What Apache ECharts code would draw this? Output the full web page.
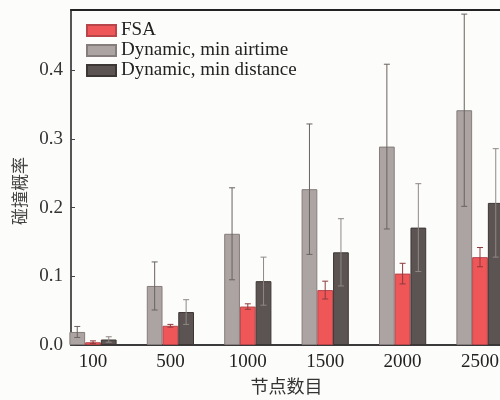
<!DOCTYPE html>
<html><head><meta charset="utf-8">
<script src="https://cdn.jsdelivr.net/npm/echarts@6/dist/echarts.min.js"></script>
<style>html,body{margin:0;padding:0;background:#fcfcfa;}#c{width:500px;height:400px;}</style>
</head><body><div id="c"></div>
<script>
const categories = ['100', '500', '1000', '1500', '2000', '2500'];
const fsa = [0.004, 0.028, 0.056, 0.080, 0.104, 0.128];
const fsaErr = [0.002, 0.002, 0.004, 0.013, 0.015, 0.014];
const airtime = [0.019, 0.086, 0.162, 0.227, 0.289, 0.342];
const airtimeErr = [0.008, 0.035, 0.067, 0.095, 0.120, 0.140];
const distance = [0.008, 0.048, 0.093, 0.135, 0.171, 0.207];
const distanceErr = [0.004, 0.018, 0.035, 0.049, 0.064, 0.079];
const yTicks = [0.0, 0.1, 0.2, 0.3, 0.4];
const legendNames = ['FSA', 'Dynamic, min airtime', 'Dynamic, min distance'];

const GAP = 0.39;
const serif = "'Liberation Serif','DejaVu Serif',serif";
const cjk = "'Noto Sans CJK SC',sans-serif";

function errData(vals, errs, slot) {
  return vals.map((v, i) => [i, v - errs[i], v + errs[i], slot]);
}
function errSeries(name, vals, errs, slot, color) {
  return {
    type: 'custom', name: name + ' err', xAxisIndex: 0, yAxisIndex: 0, z: 5,
    data: errData(vals, errs, slot), silent: true,
    renderItem: function (params, api) {
      const band = api.size([1, 0])[0];
      const bw = band * (1 - GAP) / 3;
      const hi = api.coord([api.value(0), api.value(2)]);
      const lo = api.coord([api.value(0), Math.max(0, api.value(1))]);
      const x = hi[0] + (api.value(3) - 1) * bw;
      const cap = 3;
      const st = { stroke: color, lineWidth: 1 };
      return { type: 'group', children: [
        { type: 'line', shape: { x1: x, y1: hi[1], x2: x, y2: lo[1] }, style: st },
        { type: 'line', shape: { x1: x - cap, y1: hi[1], x2: x + cap, y2: hi[1] }, style: st },
        { type: 'line', shape: { x1: x - cap, y1: lo[1], x2: x + cap, y2: lo[1] }, style: st }
      ]};
    }
  };
}

const chart = echarts.init(document.getElementById('c'), null, { renderer: 'canvas' });
chart.setOption({
  backgroundColor: '#fcfcfa',
  animation: false,
  grid: [
    { left: 54.3, right: -18.7, top: 10, bottom: 55, outerBoundsMode: 'none', containLabel: false },
    { left: 71, right: -20, top: 10, bottom: 55, outerBoundsMode: 'none', containLabel: false }
  ],
  legend: {
    data: legendNames, orient: 'vertical', left: 81, top: 16,
    itemWidth: 29, itemHeight: 11, itemGap: 1, icon: 'rect',
    textStyle: { fontFamily: serif, fontSize: 19, color: '#222', lineHeight: 16 }
  },
  xAxis: [
    {
      type: 'category', data: categories, gridIndex: 0,
      axisLine: { show: false },
      axisTick: { show: true, inside: true, length: 3, alignWithLabel: true, lineStyle: { color: '#333' } },
      axisLabel: { fontFamily: serif, fontSize: 19, color: '#222', margin: 8 },
      name: '节点数目', nameLocation: 'middle', nameGap: 31,
      nameTextStyle: { fontFamily: cjk, fontSize: 18, color: '#333' }
    },
    { type: 'value', gridIndex: 1, position: 'bottom', min: 0, max: 1,
      axisLine: { show: true, lineStyle: { color: '#3a3a3a', width: 2 } },
      axisTick: { show: false }, axisLabel: { show: false }, splitLine: { show: false } },
    { type: 'value', gridIndex: 1, position: 'top', min: 0, max: 1,
      axisLine: { show: true, lineStyle: { color: '#222', width: 2 } },
      axisTick: { show: false }, axisLabel: { show: false }, splitLine: { show: false } }
  ],
  yAxis: [
    {
      type: 'value', gridIndex: 0, min: 0, max: 0.488, interval: 0.1, offset: -16.7,
      axisLine: { show: true, lineStyle: { color: '#555', width: 2 } },
      axisTick: { show: true, inside: true, length: 4, lineStyle: { color: '#444' } },
      axisLabel: { fontFamily: serif, fontSize: 19, color: '#333', margin: 8, showMaxLabel: false,
        formatter: v => (yTicks.some(t => Math.abs(t - v) < 1e-9) ? v.toFixed(1) : '') },
      splitLine: { show: false },
      name: '碰撞概率', nameLocation: 'middle', nameGap: 43, nameRotate: 90,
      nameTextStyle: { fontFamily: cjk, fontSize: 17, color: '#444', padding: [0, 27, 0, 0] }
    },
    { type: 'value', gridIndex: 1, show: false, min: 0, max: 1 }
  ],
  series: [
    { type: 'bar', name: legendNames[1], data: airtime, barCategoryGap: '39%', barGap: '0%',
      itemStyle: { color: '#aca4a2', borderColor: '#857d7b', borderWidth: 1 } },
    { type: 'bar', name: legendNames[0], data: fsa, barCategoryGap: '39%', barGap: '0%',
      itemStyle: { color: '#ee5658', borderColor: '#b8454a', borderWidth: 1 } },
    { type: 'bar', name: legendNames[2], data: distance, barCategoryGap: '39%', barGap: '0%',
      itemStyle: { color: '#5b5452', borderColor: '#3c3635', borderWidth: 1 } },
    errSeries(legendNames[1], airtime, airtimeErr, 0, '#6a6260'),
    errSeries(legendNames[0], fsa, fsaErr, 1, '#8e3a3d'),
    errSeries(legendNames[2], distance, distanceErr, 2, '#8f8886')
  ]
});
</script></body></html>
